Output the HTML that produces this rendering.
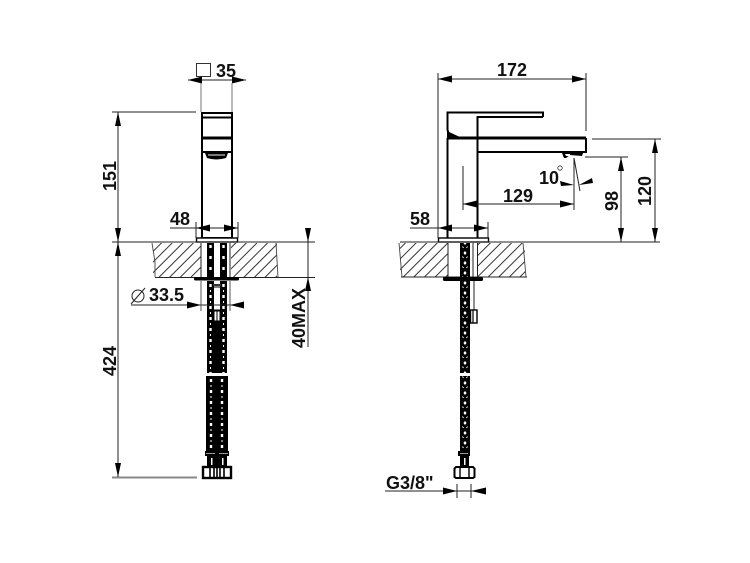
<!DOCTYPE html>
<html>
<head>
<meta charset="utf-8">
<style>
html,body{margin:0;padding:0;background:#fff;width:750px;height:563px;overflow:hidden}
svg{display:block}
text{font-family:"Liberation Sans",sans-serif;font-size:18px;font-weight:bold;fill:#111}
.t{stroke:#222;stroke-width:1;fill:none}
.m{stroke:#000;stroke-width:2;fill:none}
.k{stroke:#000;stroke-width:3;fill:none}
.h{stroke:#444;stroke-width:.9;fill:none}
.d1{stroke:#fff;stroke-width:2.400;stroke-dasharray:3 8;fill:none}
.d2{stroke:#fff;stroke-width:1;stroke-dasharray:2 9;fill:none}
</style>
</head>
<body>
<svg width="750" height="563" viewBox="0 0 750 563" xmlns="http://www.w3.org/2000/svg">
<defs>
<pattern id="hat" width="7.500" height="7.500" patternUnits="userSpaceOnUse" patternTransform="rotate(45)">
<line x1="1" y1="0" x2="1" y2="7.500" stroke="#333" stroke-width="1"/>
</pattern>
<pattern id="hoseR" width="10" height="10" patternUnits="userSpaceOnUse" x="460" y="0">
<rect width="10" height="10" fill="#000"/>
<path d="M5 1 L6.600 3 L5 5 L3.400 3Z" fill="#fff"/>
<path d="M2.500 6.500 L3.500 8 M7.500 6.500 L6.500 8" stroke="#fff" stroke-width=".9"/>
</pattern>
</defs>

<!-- LEFT VIEW: hatching -->
<rect x="153" y="243" width="48" height="34" fill="url(#hat)"/>
<rect x="231" y="243" width="46" height="34" fill="url(#hat)"/>
<path class="h" d="M152 243 L155 262 L155 277 M276 243 L278 277"/>
<line class="t" x1="201" y1="243" x2="201" y2="277"/>
<line class="t" x1="230" y1="243" x2="230" y2="277"/>
<line class="t" x1="155" y1="277.500" x2="315" y2="277.500"/>

<!-- LEFT VIEW: faucet -->
<rect class="m" x="202" y="113" width="30" height="125"/>
<line class="m" x1="202" y1="117.500" x2="232" y2="117.500"/>
<line class="k" x1="202" y1="138" x2="232" y2="138"/>
<line class="m" x1="202" y1="152" x2="232" y2="152"/>
<path d="M205 153 H228 L226 158 Q216 161 207 158Z" fill="#000"/>
<rect x="208" y="154" width="17" height="2" fill="#777"/>
<rect x="196.500" y="238" width="41" height="4" fill="#fff" stroke="#000" stroke-width="1.400"/>

<!-- LEFT VIEW: hoses -->
<rect x="207" y="243" width="7" height="34" fill="#000"/>
<rect x="220" y="243" width="7" height="34" fill="#000"/>
<path class="d1" d="M210.500 245 V277 M223.500 245 V277"/>
<rect x="194" y="277" width="45" height="3.500" rx="1.500" fill="#000"/>
<rect x="207" y="281" width="7" height="92" fill="#000"/>
<rect x="220" y="281" width="7" height="92" fill="#000"/>
<rect x="207" y="320" width="20" height="53" fill="#000"/>
<path class="d1" d="M210.500 284 V373 M223.500 284 V373"/>
<path class="d2" d="M210.500 290 V373 M223.500 290 V373"/>
<rect x="213" y="284" width="8" height="2" fill="#333"/>
<rect x="213.500" y="287" width="7" height="23" fill="#fff" stroke="#000"/>
<rect x="214" y="311" width="6" height="10" fill="#fff" stroke="#000"/>
<line x1="217" y1="311" x2="217" y2="321" stroke="#000"/>
<rect x="206" y="376" width="22" height="79" fill="#000"/>
<path class="d1" d="M211 379 V448 M222 379 V448"/>
<path class="d2" d="M211 385 V448 M222 385 V448"/>
<rect x="205" y="451" width="24" height="5" fill="#000"/>
<rect x="206" y="453" width="9" height="1" fill="#999"/>
<rect x="219" y="453" width="9" height="1" fill="#999"/>
<rect x="207" y="456" width="20" height="10" fill="#000"/>
<rect x="211" y="458" width="1.500" height="7" fill="#fff"/>
<rect x="222" y="458" width="1.500" height="7" fill="#fff"/>
<rect x="203" y="467" width="28" height="11" fill="#fff" stroke="#000" stroke-width="2.400"/>
<path d="M210 467 V478 M214 467 V478 M217 467 V478 M220 467 V478 M224 467 V478" stroke="#000" stroke-width="1.600"/>

<!-- LEFT VIEW: dimensions -->
<line class="t" x1="112" y1="242" x2="315" y2="242" stroke-width="1.200"/>
<line class="t" x1="112" y1="112" x2="196" y2="112"/>
<line x1="112" y1="477.500" x2="197" y2="477.500" stroke="#888" stroke-width="2"/>
<line class="t" x1="118" y1="112" x2="118" y2="477"/>
<path d="M118 112 L121 126 H115Z M118 242 L121 228 H115Z M118 242 L121 256 H115Z M118 477 L121 463 H115Z" fill="#000"/>
<text transform="translate(116,191) rotate(-90)">151</text>
<text transform="translate(116,376) rotate(-90)">424</text>

<rect x="196.500" y="63.500" width="14" height="13" fill="#fff" stroke="#333" stroke-width="1"/>
<text x="216" y="77">35</text>
<line class="t" x1="188" y1="80" x2="246" y2="80"/>
<path d="M188 80 L202 76.500 V83.500Z M246 80 L232 76.500 V83.500Z" fill="#000"/>
<line x1="201" y1="83" x2="201" y2="112" stroke="#777"/>
<line x1="232" y1="83" x2="232" y2="112" stroke="#777"/>

<text x="170" y="225">48</text>
<line class="t" x1="170" y1="228" x2="238" y2="228"/>
<line class="t" x1="196" y1="222" x2="196" y2="238"/>
<line class="t" x1="238" y1="222" x2="238" y2="238"/>
<path d="M196 228 L210 224.500 V231.500Z M238 228 L224 224.500 V231.500Z" fill="#000"/>

<line class="t" x1="308" y1="228" x2="308" y2="347"/>
<path d="M308 242 L305 228 H311Z M308 277 L305 291 H311Z" fill="#000"/>
<text transform="translate(305,348) rotate(-90)">40MAX</text>

<circle class="t" cx="138" cy="296" r="6"/>
<line class="t" x1="131" y1="304" x2="145" y2="288"/>
<text x="149" y="301">33.5</text>
<line class="t" x1="131" y1="305" x2="244" y2="305"/>
<path d="M201 305 L187 301.500 V308.500Z M230 305 L244 301.500 V308.500Z" fill="#000"/>
<line x1="201" y1="281" x2="201" y2="311" stroke="#555"/>
<line x1="230" y1="281" x2="230" y2="311" stroke="#555"/>

<!-- RIGHT VIEW: hatching -->
<rect x="400" y="243" width="48" height="34" fill="url(#hat)"/>
<rect x="478" y="243" width="47" height="34" fill="url(#hat)"/>
<path class="h" d="M399 243 L402 277 M523 243 L526 277"/>
<line class="t" x1="448" y1="243" x2="448" y2="277"/>
<line class="t" x1="477.500" y1="243" x2="477.500" y2="277"/>
<line class="t" x1="401" y1="277" x2="527" y2="277"/>
<line class="t" x1="473" y1="243" x2="473" y2="277"/>

<!-- RIGHT VIEW: faucet -->
<path class="m" d="M543 117 V112.500 H447.500 V130 L449 134 L458 138"/>
<path class="m" d="M543 117 H477.500 V238"/>
<path d="M447 131 L462 138 H447Z" fill="#000"/>
<path class="k" d="M447 138 H586"/>
<path class="m" d="M586 138 V152 H478"/>
<line x1="447.500" y1="138" x2="447.500" y2="238" stroke="#000" stroke-width="2"/>
<path d="M562 153 H583 L582 156 L570 155 L566 158 H564Z" fill="#000"/>
<path d="M565 154 H570 V156 H566Z" fill="#fff"/>
<rect x="438.500" y="238" width="50" height="4" fill="#fff" stroke="#000" stroke-width="1.400"/>

<!-- RIGHT VIEW: hose -->
<rect x="460" y="243" width="10" height="34" fill="url(#hoseR)"/>
<rect x="443" y="277" width="40" height="4" rx="1.500" fill="#000"/>
<rect x="460" y="281" width="10" height="92" fill="url(#hoseR)"/>
<rect x="460" y="376" width="10" height="75" fill="url(#hoseR)"/>
<line class="t" x1="474" y1="281" x2="474" y2="310"/>
<rect x="470.500" y="310" width="6.500" height="13" fill="#fff" stroke="#000" stroke-width="1.400"/>
<line x1="473" y1="310" x2="473" y2="323" stroke="#000" stroke-width="1.200"/>
<rect x="458" y="451" width="12" height="5" fill="#000"/>
<rect x="460" y="453" width="8" height="1" fill="#999"/>
<rect x="460" y="456" width="9" height="10" fill="#000"/>
<rect x="464" y="458" width="1.500" height="7" fill="#fff"/>
<path d="M456 467 H473 L474.500 468.500 V477 L473 478 H456 L454.500 477 V468.500Z" fill="#fff" stroke="#000" stroke-width="2"/>
<path d="M460 467 V478 M469 467 V478" stroke="#000" stroke-width="1.400"/>

<!-- RIGHT VIEW: dimensions -->
<line class="t" x1="400" y1="242" x2="660" y2="242" stroke-width="1.200"/>
<text x="497" y="76">172</text>
<line class="t" x1="438" y1="79" x2="586" y2="79"/>
<line class="t" x1="438" y1="73" x2="438" y2="238"/>
<line class="t" x1="586" y1="73" x2="586" y2="131"/>
<path d="M438 79 L452 75.500 V82.500Z M586 79 L572 75.500 V82.500Z" fill="#000"/>

<line class="t" x1="592" y1="139" x2="661" y2="139"/>
<line class="t" x1="655" y1="139" x2="655" y2="242"/>
<path d="M655 139 L658 153 H652Z M655 242 L658 228 H652Z" fill="#000"/>
<text transform="translate(651,206) rotate(-90)">120</text>

<line class="t" x1="585" y1="157" x2="628" y2="157"/>
<line class="t" x1="621" y1="157" x2="621" y2="242"/>
<path d="M621 157 L624 171 H618Z M621 242 L624 228 H618Z" fill="#000"/>
<text transform="translate(618,211) rotate(-90)">98</text>

<text x="518" y="202" text-anchor="middle">129</text>
<line class="t" x1="463" y1="204" x2="574" y2="204"/>
<line class="t" x1="463" y1="166" x2="463" y2="210"/>
<line class="t" x1="574" y1="158" x2="574" y2="210"/>
<line class="t" x1="574" y1="158" x2="580" y2="191"/>
<path d="M463 204 L477 200.500 V207.500Z M574 204 L560 200.500 V207.500Z" fill="#000"/>
<path d="M574 185 L560 181 L561 186Z M579 185 L592 178 L593 183Z" fill="#000"/>
<text x="539" y="184">10</text>
<circle cx="560" cy="168" r="2.200" fill="none" stroke="#333" stroke-width=".8"/>

<text x="410" y="225">58</text>
<line class="t" x1="410" y1="228" x2="488" y2="228"/>
<line class="t" x1="488" y1="222" x2="488" y2="238"/>
<path d="M438 228 L452 224.500 V231.500Z M488 228 L474 224.500 V231.500Z" fill="#000"/>

<text x="386" y="489">G3/8"</text>
<line class="t" x1="385" y1="491" x2="486" y2="491"/>
<line class="t" x1="457" y1="484" x2="457" y2="498"/>
<line class="t" x1="471" y1="484" x2="471" y2="498"/>
<path d="M457 491 L443 487.500 V494.500Z M471 491 L486 487.500 V494.500Z" fill="#000"/>
</svg>
</body>
</html>
